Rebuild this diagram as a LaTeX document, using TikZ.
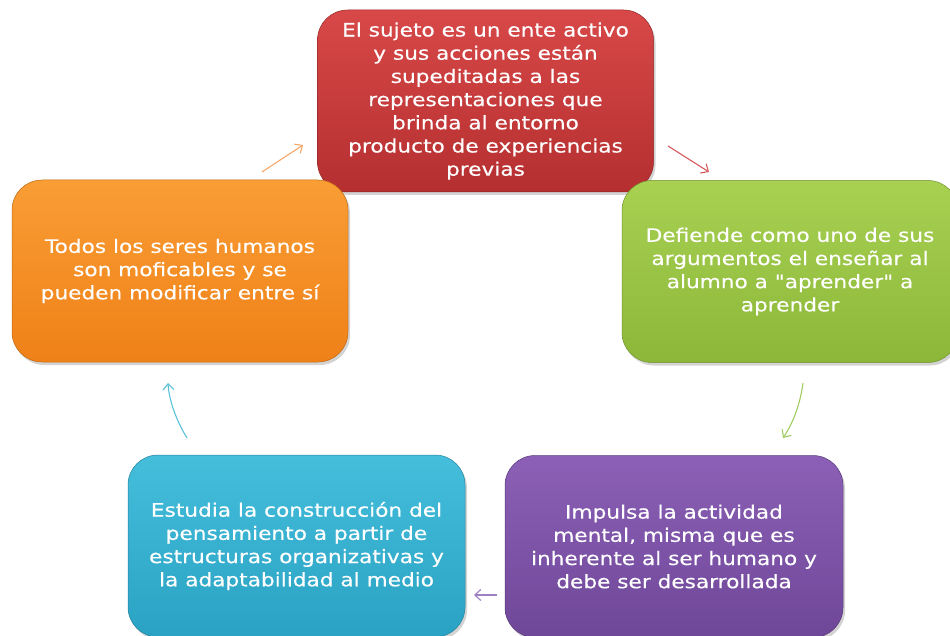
\documentclass[tikz,border=0pt]{standalone}
\usepackage{fontspec}
\newfontfamily\cardfont{DejaVu Sans}[FakeStretch=1.17,FakeBold=0.3]
\usetikzlibrary{arrows.meta,shadows}
\definecolor{redtop}{HTML}{D84848}
\definecolor{redbot}{HTML}{B52F30}
\definecolor{greentop}{HTML}{A8D152}
\definecolor{greenbot}{HTML}{8CB739}
\definecolor{purptop}{HTML}{8B60B6}
\definecolor{purpbot}{HTML}{6F4798}
\definecolor{cyantop}{HTML}{45BEDC}
\definecolor{cyanbot}{HTML}{2AA2C3}
\definecolor{orgtop}{HTML}{F99D35}
\definecolor{orgbot}{HTML}{EF8117}
\definecolor{arrorange}{HTML}{F6A76A}
\definecolor{arrred}{HTML}{D4585C}
\definecolor{arrgreen}{HTML}{9FCC62}
\definecolor{arrpurple}{HTML}{9D7FC4}
\definecolor{arrcyan}{HTML}{5BC1DA}
\tikzset{
  x=1pt,y=-1pt,
  card/.style={rectangle, rounded corners=30pt, minimum width=336pt, minimum height=182pt,
    inner sep=0pt, align=center, text=white, font=\cardfont\fontsize{18.5}{23.2}\selectfont,
    drop shadow={opacity=0.35, shadow xshift=2pt, shadow yshift=-3pt}},
  flow/.style={line width=1.1pt, -{Straight Barb[length=6pt,width=11pt,line width=1.1pt]}}
}
\begin{document}
\begin{tikzpicture}
\useasboundingbox (0,0) rectangle (950,636);
\clip (0,0) rectangle (950,636);
\node[card, top color=redtop, bottom color=redbot, draw=redbot!80!black, line width=0.5pt] (red) at (485.5,101)
  {El sujeto es un ente activo\\y sus acciones están\\supeditadas a las\\representaciones que\\brinda al entorno\\producto de experiencias\\previas};
\node[card, top color=greentop, bottom color=greenbot, draw=greenbot!80!black, line width=0.5pt] (green) at (790,271.5)
  {Defiende como uno de sus\\argumentos el enseñar al\\alumno a "aprender" a\\aprender};
\node[card, top color=purptop, bottom color=purpbot, draw=purpbot!80!black, line width=0.5pt, minimum width=338pt] (purple) at (674,546.5)
  {Impulsa la actividad\\mental, misma que es\\inherente al ser humano y\\debe ser desarrollada};
\node[card, top color=cyantop, bottom color=cyanbot, draw=cyanbot!80!black, line width=0.5pt, minimum width=337pt] (cyan) at (296.5,546)
  {Estudia la construcción del\\pensamiento a partir de\\estructuras organizativas y\\la adaptabilidad al medio};
\node[card, top color=orgtop, bottom color=orgbot, draw=orgbot!80!black, line width=0.5pt] (orange) at (180,271)
  {Todos los seres humanos\\son moficables y se\\pueden modificar entre sí};
% arrow end points
\coordinate (o1) at (262,172); \coordinate (o2) at (303,145);
\coordinate (r1) at (668,146); \coordinate (r2) at (709,172);
\coordinate (g1) at (803,383); \coordinate (g2) at (783,438);
\coordinate (p1) at (497,595); \coordinate (p2) at (474,595);
\coordinate (c1) at (187,438); \coordinate (c2) at (168,383);
\draw[flow, arrorange] (o1) -- (o2);
\draw[flow, arrred] (r1) -- (r2);
\draw[flow, arrgreen] (g1) .. controls (800,405) and (793,423) .. (g2);
\draw[flow, arrpurple] (p1) -- (p2);
\draw[flow, arrcyan] (c1) .. controls (176,420) and (169,400) .. (c2);
\end{tikzpicture}
\end{document}
